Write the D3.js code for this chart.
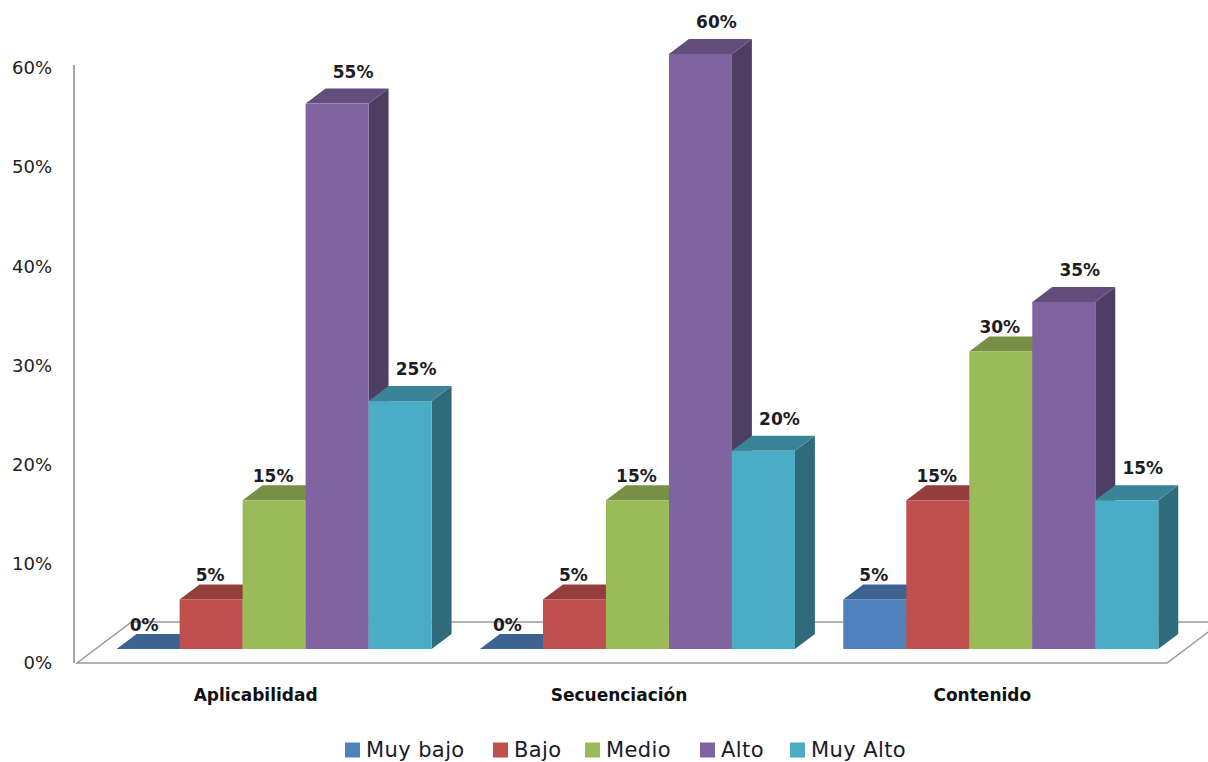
<!DOCTYPE html>
<html><head><meta charset="utf-8">
<script src="https://cdn.jsdelivr.net/npm/d3@7"></script>
<style>body{margin:0;background:#fff}</style>
</head><body>
<svg id="c" width="1208" height="762"></svg>
<script>
// ---- data ----
const categories = ["Aplicabilidad", "Secuenciación", "Contenido"];
const seriesNames = ["Muy bajo", "Bajo", "Medio", "Alto", "Muy Alto"];
const muyBajo = [0, 0, 5];
const bajo = [5, 5, 15];
const medio = [15, 15, 30];
const alto = [55, 60, 35];
const muyAlto = [25, 20, 15];
const yTicks = [0, 10, 20, 30, 40, 50, 60];
const seriesValues = [muyBajo, bajo, medio, alto, muyAlto];
const colors = ["#4f81bd", "#c0504d", "#9bbb59", "#8064a2", "#4bacc6"];

// ---- layout ----
const svg = d3.select("#c");
const font = "'DejaVu Sans', Verdana, sans-serif";
const floorFront = 663, floorLeft = 77, floorRight = 1167;
const floorDepthY = 41, ratio = 1.33;
const floorDepthX = floorDepthY * ratio;
const barOffY = 14, barOffX = barOffY * ratio;   // bar front plane offset from floor front
const barDY = 15, barDX = barDY * ratio;          // bar depth

const x0 = d3.scaleBand().domain(categories).range([floorLeft, floorRight]);
const x1 = d3.scaleBand().domain(seriesNames).range([21, 336]);
const yAxisScale = d3.scaleLinear().domain([0, 60]).range([floorFront, 68]);
const yBar = v => yAxisScale(v) - barOffY;

function shade(c, k) {
  const r = d3.rgb(c);
  return d3.rgb(r.r * k, r.g * k, r.b * k).formatHex();
}

// floor
const fl = [[floorLeft, floorFront], [floorRight, floorFront],
            [floorRight + floorDepthX, floorFront - floorDepthY],
            [floorLeft + floorDepthX, floorFront - floorDepthY]];
svg.append("polygon")
  .attr("points", fl.map(p => p.join(",")).join(" "))
  .attr("fill", "#fff").attr("stroke", "#9a9a9a").attr("stroke-width", 1.5);

// y axis
const yAxis = d3.axisLeft(yAxisScale).tickValues(yTicks)
  .tickFormat(d => d + "%").tickSize(0).tickSizeOuter(0).tickPadding(22);
const gy = svg.append("g").attr("transform", `translate(74,0)`).call(yAxis);
gy.select(".domain").attr("stroke", "#8a8a8a").attr("stroke-width", 1.5)
  .attr("d", `M0,65V${floorFront}`);
gy.selectAll("text").attr("font-family", font).attr("font-size", 18)
  .attr("fill", "#222");

// bars
const gBars = svg.append("g");
categories.forEach((cat, ci) => {
  seriesNames.forEach((s, si) => {
    const v = seriesValues[si][ci];
    const xl = x0(cat) + x1(s) + barOffX;
    const xr = xl + x1.bandwidth();
    const yt = yBar(v), yb = yBar(0);
    const col = colors[si];
    const g = gBars.append("g");
    // side
    g.append("polygon").attr("points",
      [[xr, yb], [xr, yt], [xr + barDX, yt - barDY], [xr + barDX, yb - barDY]].map(p => p.join(",")).join(" "))
      .attr("fill", shade(col, 0.62));
    // top
    g.append("polygon").attr("points",
      [[xl, yt], [xr, yt], [xr + barDX, yt - barDY], [xl + barDX, yt - barDY]].map(p => p.join(",")).join(" "))
      .attr("fill", shade(col, 0.77));
    // front
    g.append("rect").attr("x", xl).attr("y", yt).attr("width", x1.bandwidth())
      .attr("height", yb - yt).attr("fill", col);
  });
});

// data labels
const gLab = svg.append("g");
categories.forEach((cat, ci) => {
  seriesNames.forEach((s, si) => {
    const v = seriesValues[si][ci];
    const xl = x0(cat) + x1(s) + barOffX;
    const cx = xl + x1.bandwidth() / 2;
    const backTop = yBar(v) - barDY;
    const raised = si >= 3;
    gLab.append("text")
      .attr("x", cx + (raised ? 16 : (v === 0 ? -4 : -1)))
      .attr("y", backTop - (raised ? 17 : 9))
      .attr("dy", "0.35em")
      .attr("text-anchor", "middle")
      .attr("font-family", font).attr("font-size", 17).attr("font-weight", "bold")
      .attr("fill", "#1c1c24")
      .text(v + "%");
  });
});

// category labels
svg.append("g").selectAll("text").data(categories).join("text")
  .attr("x", d => x0(d) + x0.bandwidth() / 2 - 3)
  .attr("y", 695).attr("dy", "0.35em").attr("text-anchor", "middle")
  .attr("font-family", font).attr("font-size", 17).attr("font-weight", "bold")
  .attr("fill", "#111").text(d => d);

// legend
const legendX = [345, 493, 585, 700, 790];
const gLeg = svg.append("g");
seriesNames.forEach((s, i) => {
  const g = gLeg.append("g").attr("transform", `translate(${legendX[i]},750)`);
  g.append("rect").attr("x", 0).attr("y", -7.5).attr("width", 15).attr("height", 15)
    .attr("fill", colors[i]);
  g.append("text").attr("x", 21).attr("y", 0).attr("dy", "0.35em")
    .attr("font-family", font).attr("font-size", 21).attr("letter-spacing", 0.4)
    .attr("fill", "#1a1a2a").text(s);
});
</script>
</body></html>
